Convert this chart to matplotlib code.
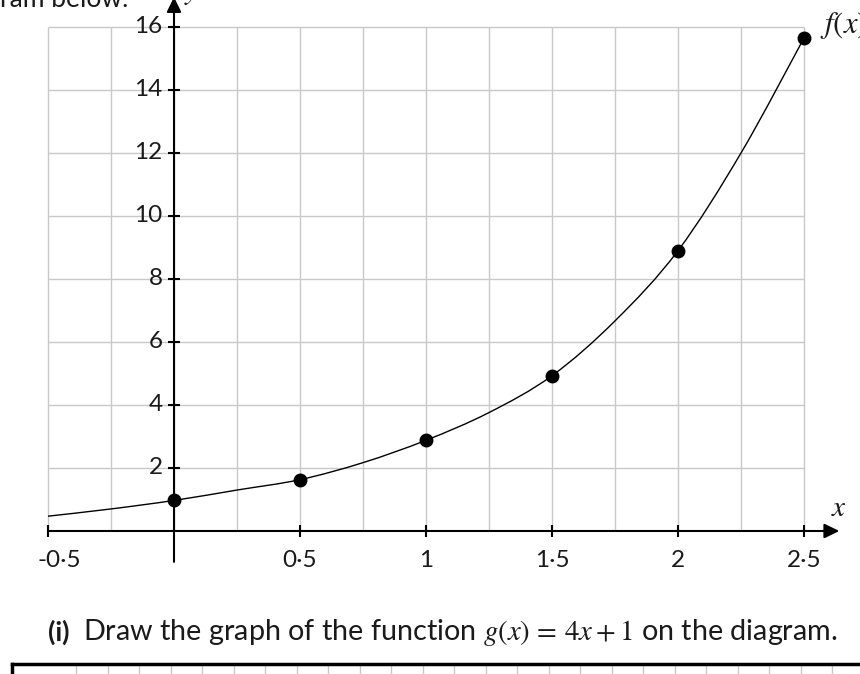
import numpy as np
import matplotlib
matplotlib.use("Agg")
import matplotlib.pyplot as plt
from matplotlib.path import Path
from matplotlib.patches import PathPatch

# values
curve_x = [-0.5, -0.25, 0, 0.25, 0.5, 0.75, 1, 1.25, 1.5, 1.75, 2, 2.25, 2.5]
curve_y = [0.47, 0.70, 0.97, 1.30, 1.63, 2.17, 2.88, 3.76, 4.93, 6.67, 8.90, 12.0, 15.65]
dot_x = [0, 0.5, 1, 1.5, 2, 2.5]
dot_y = [0.97, 1.63, 2.88, 4.93, 8.90, 15.65]
x_ticks = [-0.5, 0.5, 1, 1.5, 2, 2.5]
x_tick_labels = ["-0·5", "0·5", "1", "1·5", "2", "2·5"]
y_ticks = [2, 4, 6, 8, 10, 12, 14, 16]
grid_x = np.arange(-0.5, 2.51, 0.25)
grid_y = [2, 4, 6, 8, 10, 12, 14, 16]
box_x = np.arange(-0.512, 2.73, 0.125)

plt.rcParams['font.family'] = ['Lato', 'DejaVu Sans']
plt.rcParams['mathtext.fontset'] = 'stix'
txt = '#1a1a1a'
grey = '#c8c8c8'

fig = plt.figure(figsize=(8.6, 6.74), dpi=100)
ax = fig.add_axes([0, 0, 1, 1])
ax.set_xlim(-0.6905, 2.7222)
ax.set_ylim(-4.54, 16.857)
ax.set_axis_off()

# grid
ax.vlines(grid_x, 0, 16, color=grey, lw=1.0, zorder=1)
ax.hlines(grid_y, -0.5, 2.5, color=grey, lw=1.0, zorder=1)

# axes with arrows
arrow = dict(arrowstyle='-|>,head_length=0.45,head_width=0.22',
             mutation_scale=20, color='black', lw=1.5, shrinkA=0, shrinkB=0)
ax.annotate('', xy=(2.64, 0), xytext=(-0.5, 0), arrowprops=arrow,
            annotation_clip=False, zorder=3)
ax.annotate('', xy=(0, 16.95), xytext=(0, -0.98), arrowprops=arrow,
            annotation_clip=False, zorder=3)

# ticks
ax.vlines(x_ticks, -0.19, 0.19, color='black', lw=1.5, zorder=3)
ax.hlines(y_ticks, -0.024, 0.024, color='black', lw=1.5, zorder=3)
for xv, lab in zip(x_ticks, x_tick_labels):
    off = 11 if lab.startswith('-') else 0
    ax.annotate(lab, (xv, -0.95), xytext=(off, 0), textcoords='offset pixels',
                ha='center', va='center', fontsize=17.5, color=txt)
for yv in y_ticks:
    ax.text(-0.045, yv, str(yv), ha='right', va='center', fontsize=17.5, color=txt)

# smooth curve through the read points (Catmull-Rom as cubic Bezier)
pts = np.column_stack([curve_x, curve_y])
ext = np.vstack([pts[0], pts, pts[-1]])
verts = [tuple(pts[0])]
codes = [Path.MOVETO]
for i in range(1, len(ext) - 2):
    p0, p1, p2, p3 = ext[i - 1], ext[i], ext[i + 1], ext[i + 2]
    c1 = p1 + (p2 - p0) / 6
    c2 = p2 - (p3 - p1) / 6
    verts += [tuple(c1), tuple(c2), tuple(p2)]
    codes += [Path.CURVE4] * 3
ax.add_patch(PathPatch(Path(verts, codes), fill=False, ec='black', lw=1.0, zorder=4))
ax.plot(dot_x, dot_y, 'o', color='black', ms=9, zorder=5)

# labels
ax.text(2.64, 0.73, '$x$', fontsize=21, color=txt, ha='center', va='center')
ax.text(0.068, 16.9, '$y$', fontsize=21, color=txt, ha='center', va='baseline')
ax.text(2.565, 16.06, '$f(x)$', fontsize=22, color=txt, ha='left', va='center')
ax.text(-0.6905, 16.63, 'ram below.', fontsize=19, color=txt, ha='left', va='baseline')

# question text
ax.text(-0.5, -3.21, '(i)', fontsize=19.5, fontweight='bold', color=txt,
        ha='left', va='center')
ax.text(-0.362, -3.21, 'Draw the graph of the function $g(x)\\,=\\,4x+1$ on the diagram.',
        fontsize=20.7, color=txt, ha='left', va='center')

# answer box top edge
ax.vlines(box_x[1:], -4.54, -4.19, color=grey, lw=1.0, zorder=1)
ax.plot([-0.643, 2.7222], [-4.22, -4.22], color='black', lw=2.5, zorder=2)
ax.plot([-0.643, -0.643], [-4.22, -4.6], color='black', lw=2.5, zorder=2)

fig.savefig('out.png', dpi=100)
